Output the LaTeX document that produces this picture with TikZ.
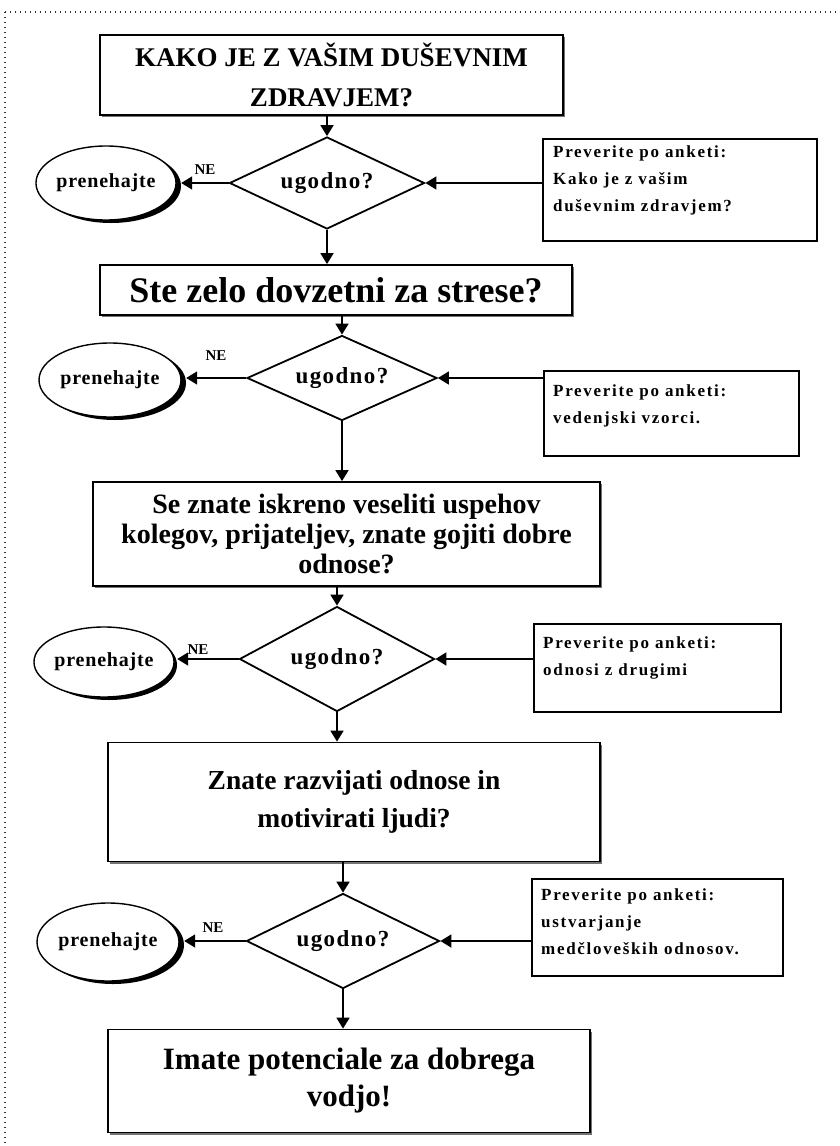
\documentclass[tikz,border=0pt]{standalone}
\usepackage{fontspec}
\setmainfont{Liberation Serif}
\usetikzlibrary{shapes.geometric,arrows.meta,shadows}
\begin{document}
\begin{tikzpicture}[x=1pt,y=-1pt,
  qbox/.style={draw, line width=1.8pt, fill=white, rectangle, inner sep=0pt, align=center,
    drop shadow={shadow xshift=2pt, shadow yshift=-2pt, fill=black!55, opacity=1}},
  sidebox/.style={draw, line width=1.6pt, fill=white, rectangle, inner sep=0pt, anchor=north west},
  sidetext/.style={anchor=north west, align=left, inner sep=0pt, font=\bfseries\fontsize{17}{27}\selectfont\addfontfeature{LetterSpace=10}},
  dec/.style={draw, line width=1.8pt, diamond, aspect=2.1, fill=white, inner sep=0pt, font=\bfseries\fontsize{23}{24}\selectfont\addfontfeature{LetterSpace=6}},
  stopel/.style={draw, line width=1.4pt, ellipse, fill=white, inner sep=0pt, font=\bfseries\fontsize{20}{20}\selectfont\addfontfeature{LetterSpace=4}},
  elshadow/.style={fill=black, ellipse, inner sep=0pt},
  nelab/.style={font=\bfseries\fontsize{15}{16}\selectfont, inner sep=0pt},
  arr/.style={line width=1.8pt, -{Triangle[length=11pt,width=13pt]}},
  frame/.style={line width=1.3pt, dash pattern=on 1.3pt off 3.7pt, black!80}
]
\useasboundingbox (0,0) rectangle (840,1146);
\draw[frame] (5,12) -- (840,12);
\draw[frame] (5,12) -- (5,1146);

% main boxes
\node[qbox, minimum width=463pt, minimum height=80pt, font=\bfseries\fontsize{27}{40}\selectfont] (b1) at (331.5,75) {KAKO JE Z VAŠIM DUŠEVNIM\\ZDRAVJEM?};
\node[qbox, minimum width=472pt, minimum height=50pt, font=\bfseries\fontsize{36}{38}\selectfont] (b2) at (336,290) {Ste zelo dovzetni za strese?};
\node[qbox, minimum width=507pt, minimum height=104pt, font=\bfseries\fontsize{28}{30}\selectfont] (b3) at (346.5,534) {Se znate iskreno veseliti uspehov\\kolegov, prijateljev, znate gojiti dobre\\odnose?};
\node[qbox, minimum width=492pt, minimum height=119pt, font=\bfseries\fontsize{27.5}{38}\selectfont] (b4) at (354,802) {Znate razvijati odnose in\\motivirati ljudi?};
\node[qbox, minimum width=482pt, minimum height=103pt, font=\bfseries\fontsize{31}{37}\selectfont] (b5) at (349,1081) {Imate potenciale za dobrega\\vodjo!};

% decisions
\node[dec, minimum width=195pt, minimum height=92pt] (d1) at (327,183) {ugodno?};
\node[dec, minimum width=190pt, minimum height=85pt] (d2) at (342,378) {ugodno?};
\node[dec, minimum width=195pt, minimum height=105pt] (d3) at (337,659) {ugodno?};
\node[dec, minimum width=193pt, minimum height=95pt] (d4) at (343,941) {ugodno?};

% stop ellipses (shadow crescent drawn beneath)
\foreach \n/\x/\y/\w/\h in {e1/106/183/140/74, e2/110/380/142/74, e3/104/662/136/70, e4/108/942/142/78}{
  \node[elshadow, minimum width=\w pt, minimum height=\h pt] (\n s) at (\x+5,\y+3) {};
}
\node[stopel, minimum width=140pt, minimum height=74pt] (e1) at (106,183) {prenehajte};
\node[stopel, minimum width=142pt, minimum height=74pt] (e2) at (110,380) {prenehajte};
\node[stopel, minimum width=136pt, minimum height=70pt] (e3) at (104,662) {prenehajte};
\node[stopel, minimum width=142pt, minimum height=78pt] (e4) at (108,942) {prenehajte};

% NE labels
\node[nelab] (n1) at (205,170) {NE};
\node[nelab] (n2) at (216,356) {NE};
\node[nelab] (n3) at (198,650) {NE};
\node[nelab] (n4) at (213,928) {NE};

% side boxes
\node[sidebox, minimum width=274pt, minimum height=102pt] (s1) at (542,138) {};
\node[sidetext] (s1t) at (553,146) {Preverite po anketi:\\Kako je z vašim\\duševnim zdravjem?};
\node[sidebox, minimum width=255pt, minimum height=85pt] (s2) at (543,370) {};
\node[sidetext] (s2t) at (553,384) {Preverite po anketi:\\vedenjski vzorci.};
\node[sidebox, minimum width=247pt, minimum height=88pt] (s3) at (533,623) {};
\node[sidetext] (s3t) at (543,636) {Preverite po anketi:\\odnosi z drugimi};
\node[sidebox, minimum width=251pt, minimum height=97pt] (s4) at (531,878) {};
\node[sidetext] (s4t) at (541,888) {Preverite po anketi:\\ustvarjanje\\medčloveških odnosov.};

% flow arrows
\draw[arr] (d1.north |- b1.south) -- (d1.north);
\draw[arr] (d1.south) -- (d1.south |- b2.north);
\draw[arr] (d2.north |- b2.south) -- (d2.north);
\draw[arr] (d2.south) -- (d2.south |- b3.north);
\draw[arr] (d3.north |- b3.south) -- (d3.north);
\draw[arr] (d3.south) -- (d3.south |- b4.north);
\draw[arr] (d4.north |- b4.south) -- (d4.north);
\draw[arr] (d4.south) -- (d4.south |- b5.north);

% NE arrows
\draw[arr] (d1.west) -- (d1.west -| e1s.east);
\draw[arr] (d2.west) -- (d2.west -| e2s.east);
\draw[arr] (d3.west) -- (d3.west -| e3s.east);
\draw[arr] (d4.west) -- (d4.west -| e4s.east);

% side arrows
\draw[arr] (s1.west |- d1.east) -- (d1.east);
\draw[arr] (s2.west |- d2.east) -- (d2.east);
\draw[arr] (s3.west |- d3.east) -- (d3.east);
\draw[arr] (s4.west |- d4.east) -- (d4.east);
\end{tikzpicture}
\end{document}
